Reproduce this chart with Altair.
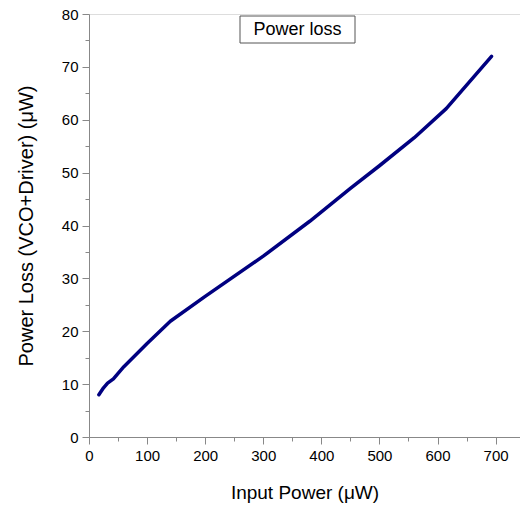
import altair as alt
import pandas as pd

# Data
input_power = [17, 25, 32, 42, 60, 100, 140, 200, 300, 380, 450, 500, 560, 615, 693]
power_loss = [8.0, 9.3, 10.2, 11.0, 13.3, 17.7, 21.9, 26.6, 34.2, 40.8, 47.0, 51.3, 56.6, 62.1, 72.0]
x_ticks = list(range(0, 701, 50))
y_ticks = list(range(0, 81, 5))
box_label = ["Power loss"]

df = pd.DataFrame({"x": input_power, "y": power_loss})
FONT = "Liberation Sans"

line = alt.Chart(df).mark_line(color="#000080", strokeWidth=3.5, strokeCap="round", strokeJoin="round").encode(
    x=alt.X("x:Q", scale=alt.Scale(domain=[0, 742], nice=False, zero=False),
            axis=alt.Axis(title="Input Power (μW)", values=x_ticks,
                          labelExpr="datum.value % 100 === 0 ? datum.label : ''",
                          tickSize=alt.ExprRef(expr="datum.value % 100 === 0 ? 7 : 4"),
                          grid=False, labelFontSize=15, titleFontSize=19,
                          titleFontWeight="normal", titleFont=FONT, labelFont=FONT,
                          labelPadding=4, titlePadding=20, labelFlush=False)),
    y=alt.Y("y:Q", scale=alt.Scale(domain=[0, 80], nice=False),
            axis=alt.Axis(title="Power Loss (VCO+Driver) (μW)", values=y_ticks,
                          labelExpr="datum.value % 10 === 0 ? datum.label : ''",
                          tickSize=alt.ExprRef(expr="datum.value % 10 === 0 ? 7 : 4"),
                          grid=False, labelFontSize=15, titleFontSize=20,
                          titleFontWeight="normal", titleFont=FONT, labelFont=FONT,
                          labelPadding=4, titlePadding=25, labelFlush=False)),
)

lab = pd.DataFrame({"label": box_label})
box = alt.Chart(lab).mark_rect(fill="white", stroke="#555555", strokeWidth=1).encode(
    x=alt.value(151), x2=alt.value(266), y=alt.value(2), y2=alt.value(29)
)
text = alt.Chart(lab).mark_text(font=FONT, fontSize=18, color="black", align="center", baseline="middle").encode(
    x=alt.value(208.5), y=alt.value(16), text="label:N"
)

chart = alt.layer(line, box, text).properties(
    width=431, height=423,
    autosize=alt.AutoSizeParams(type="none"),
    padding={"left": 89, "top": 14, "right": 0, "bottom": 73},
).configure_view(stroke=None).configure_axis(
    domainColor="black", domainWidth=2, tickColor="black", tickWidth=2,
    labelColor="black", titleColor="black",
).configure(background="white")

chart.save("out.html", embed_options={"renderer": "svg", "actions": False})
